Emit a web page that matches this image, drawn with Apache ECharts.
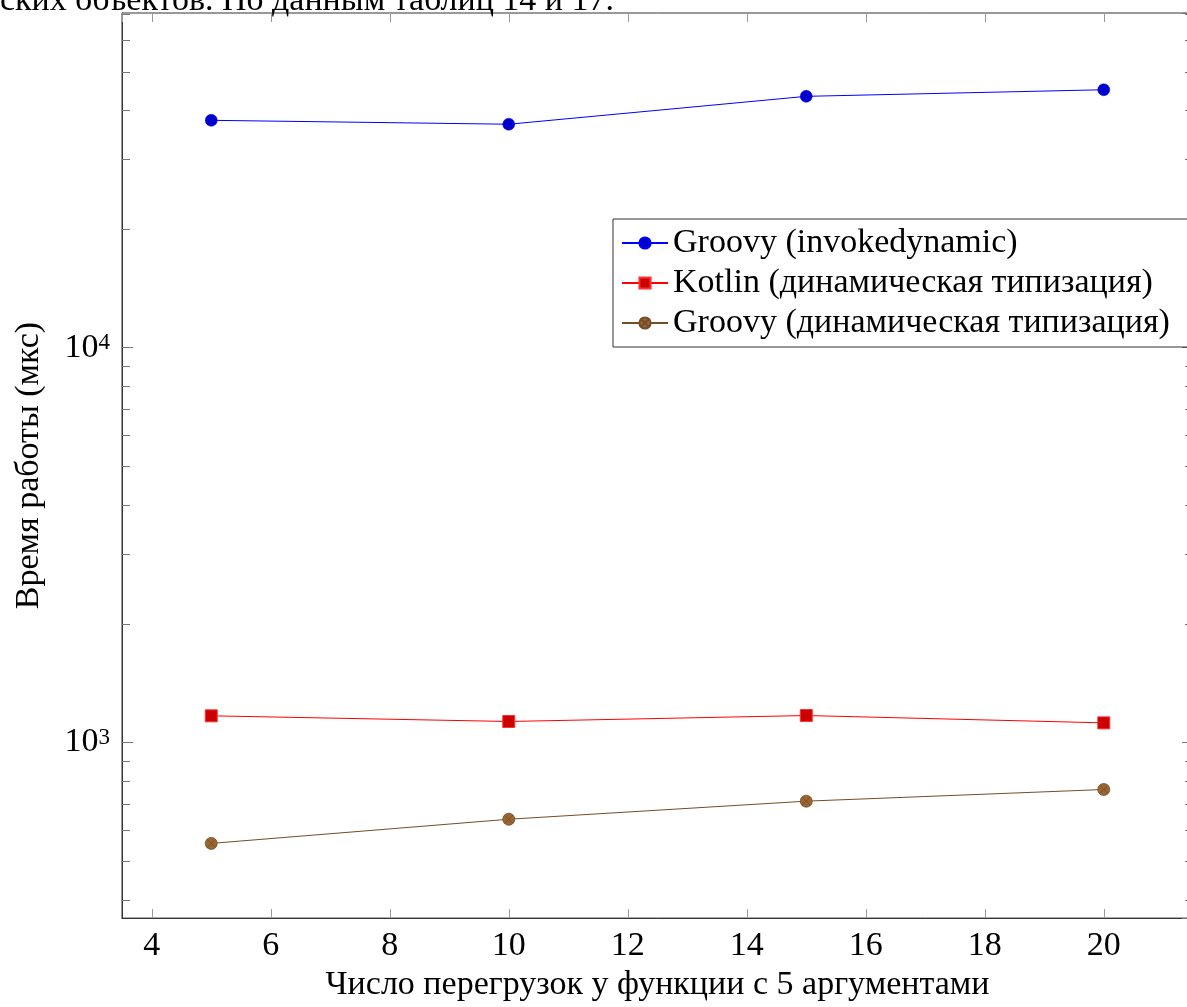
<!DOCTYPE html>
<html>
<head>
<meta charset="utf-8">
<script src="https://cdn.jsdelivr.net/npm/echarts@6/dist/echarts.min.js"></script>
<style>
html,body{margin:0;padding:0;background:#fff;overflow:hidden;width:1187px;height:1007px;}
#chart{width:1200px;height:1007px;}
</style>
</head>
<body>
<div id="chart"></div>
<script>
// ---- data ----
const xValues = [5, 10, 15, 20];
const groovyIndy = [37650, 36800, 43300, 45000];
const kotlinDyn = [1168, 1130, 1170, 1121];
const groovyDyn = [555, 639, 710, 760];
const seriesNames = ['Groovy (invokedynamic)', 'Kotlin (динамическая типизация)', 'Groovy (динамическая типизация)'];
const minorTickValues = [400, 500, 600, 700, 800, 900,
  2000, 3000, 4000, 5000, 6000, 7000, 8000, 9000,
  20000, 30000, 40000, 50000, 60000, 70000];
const xTickLabels = [4, 6, 8, 10, 12, 14, 16, 18, 20];
const captionText = 'ских объектов. По данным таблиц 14 и 17.';
const xName = 'Число перегрузок у функции с 5 аргументами';
const yName = 'Время работы (мкс)';

const X_MIN = 3.5, X_MAX = 21.5;
const Y_MIN = 359, Y_MAX = 70400;
const FONT = 'Liberation Serif';
const FS = 34;

function pairs(ys) { return xValues.map((x, i) => [x, ys[i]]); }

const otimes = 'path://M0,-1 A1,1 0 1,1 0,1 A1,1 0 1,1 0,-1 Z M-0.7071,-0.7071 L0.7071,0.7071 M-0.7071,0.7071 L0.7071,-0.7071';

const chart = echarts.init(document.getElementById('chart'), null, {renderer: 'canvas'});

const option = {
  animation: false,
  backgroundColor: '#fff',
  textStyle: {fontFamily: FONT},
  grid: {left: 122, top: 13, width: 1071, height: 907, show: true, borderColor: '#333', borderWidth: 1, backgroundColor: 'transparent'},
  graphic: [{
    type: 'text', left: 0, top: -16, silent: true,
    style: {text: captionText, fontFamily: FONT, fontSize: FS, fill: '#000'}
  }],
  legend: {
    left: 613, top: 219, orient: 'vertical',
    data: seriesNames,
    backgroundColor: '#fff',
    borderColor: '#333', borderWidth: 1, borderRadius: 0,
    padding: [6, 40, 6, 8],
    itemGap: 4, itemWidth: 46, itemHeight: 14,
    textStyle: {fontFamily: FONT, fontSize: FS, color: '#000', lineHeight: 36},
    selectedMode: false
  },
  xAxis: [{
    type: 'value', min: X_MIN, max: X_MAX, splitNumber: 9, minInterval: 2, maxInterval: 2,
    position: 'bottom',
    name: xName, nameLocation: 'middle', nameGap: 44,
    nameTextStyle: {fontFamily: FONT, fontSize: FS, color: '#000'},
    axisLine: {show: true, lineStyle: {color: '#333', width: 1}},
    axisTick: {show: true, inside: true, length: 9, lineStyle: {color: '#999', width: 1}},
    axisLabel: {show: true, showMinLabel: false, showMaxLabel: false, margin: 11,
      fontFamily: FONT, fontSize: FS, color: '#000',
      formatter: v => (xTickLabels.indexOf(v) >= 0 ? String(v) : '')},
    splitLine: {show: false}
  }, {
    type: 'value', min: X_MIN, max: X_MAX, splitNumber: 9, minInterval: 2, maxInterval: 2,
    position: 'top',
    axisLine: {show: false},
    axisTick: {show: true, inside: true, length: 9, lineStyle: {color: '#999', width: 1}},
    axisLabel: {show: false},
    splitLine: {show: false}
  }],
  yAxis: [{
    type: 'log', logBase: 10, min: Y_MIN, max: Y_MAX,
    position: 'left',
    name: yName, nameLocation: 'middle', nameGap: 76, nameRotate: 90,
    nameTextStyle: {fontFamily: FONT, fontSize: FS, color: '#000'},
    axisLine: {show: true, lineStyle: {color: '#333', width: 1}},
    axisTick: {show: true, inside: true, length: 11, lineStyle: {color: '#777', width: 1}},
    axisLabel: {
      show: true, showMinLabel: false, showMaxLabel: false, margin: 12,
      formatter: v => {
        const e = Math.round(Math.log10(v));
        if (Math.abs(Math.log10(v) - e) > 1e-6) return '';
        return '{b|10}{s|' + e + '}';
      },
      rich: {
        b: {fontFamily: FONT, fontSize: FS, color: '#000', lineHeight: 32},
        s: {fontFamily: FONT, fontSize: 23, color: '#000', lineHeight: 16, verticalAlign: 'top'}
      }
    },
    splitLine: {show: false}
  }, {
    type: 'log', logBase: 10, min: Y_MIN, max: Y_MAX,
    position: 'right',
    axisLine: {show: false},
    axisTick: {show: true, inside: true, length: 11, lineStyle: {color: '#777', width: 1}},
    axisLabel: {show: false},
    splitLine: {show: false}
  }],
  series: [{
    name: seriesNames[0], type: 'line', data: pairs(groovyIndy),
    symbol: 'circle', symbolSize: 12,
    lineStyle: {color: '#0000ff', width: 1},
    itemStyle: {color: '#0000cc', borderColor: '#0000ff', borderWidth: 0.5},
    z: 3
  }, {
    name: seriesNames[1], type: 'line', data: pairs(kotlinDyn),
    symbol: 'rect', symbolSize: 12,
    lineStyle: {color: '#ff0000', width: 1},
    itemStyle: {color: '#cc0000', borderColor: '#ff3333', borderWidth: 1},
    z: 3
  }, {
    name: seriesNames[2], type: 'line', data: pairs(groovyDyn),
    symbol: otimes, symbolSize: 12,
    lineStyle: {color: '#734d26', width: 1},
    itemStyle: {color: '#996633', borderColor: '#734d26', borderWidth: 0.8},
    z: 3
  }, {
    type: 'custom', silent: true, clip: false, z: 2,
    data: minorTickValues.map(v => [X_MIN, v]),
    renderItem: function (params, api) {
      const v = api.value(1);
      const pL = api.coord([X_MIN, v]);
      const pR = api.coord([X_MAX, v]);
      const y = Math.round(pL[1]) + 0.5;
      return {
        type: 'group',
        children: [
          {type: 'line', shape: {x1: pL[0], y1: y, x2: pL[0] + 8, y2: y}, style: {stroke: '#777', lineWidth: 1}},
          {type: 'line', shape: {x1: pR[0] - 8, y1: y, x2: pR[0], y2: y}, style: {stroke: '#777', lineWidth: 1}}
        ]
      };
    }
  }]
};
chart.setOption(option);
</script>
</body>
</html>
